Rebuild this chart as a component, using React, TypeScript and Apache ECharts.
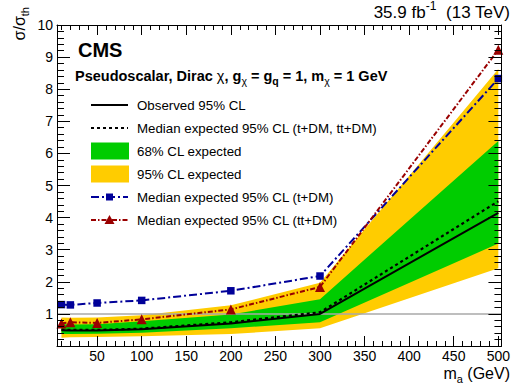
import React, { useEffect, useRef } from "react";
import * as echarts from "echarts";

// ---- data ----
const masses = [10, 20, 50, 100, 200, 300, 500];
const observed = [0.49, 0.48, 0.48, 0.52, 0.70, 1.00, 4.15];
const expected = [0.51, 0.50, 0.50, 0.54, 0.74, 1.05, 4.51];
const exp68Low = [0.37, 0.37, 0.38, 0.41, 0.55, 0.74, 3.19];
const exp68High = [0.68, 0.67, 0.68, 0.77, 0.98, 1.46, 6.39];
const exp95Low = [0.26, 0.27, 0.28, 0.30, 0.37, 0.55, 2.42];
const exp95High = [0.89, 0.88, 0.89, 0.96, 1.27, 1.97, 8.63];
const expTDM = [1.29, 1.28, 1.34, 1.42, 1.72, 2.18, 8.33];
const expTTDM = [0.70, 0.74, 0.72, 0.83, 1.14, 1.84, 9.23];

const xMajorTicks = [50, 100, 150, 200, 250, 300, 350, 400, 450, 500];
const xMinorTicks = Array.from({ length: 50 }, (_, i) => (i + 1) * 10).filter(
  (v) => v % 50 !== 0
);
const legendLabels = [
  "Observed 95% CL",
  "Median expected 95% CL (t+DM, tt+DM)",
  "68% CL expected",
  "95% CL expected",
  "Median expected 95% CL (t+DM)",
  "Median expected 95% CL (tt+DM)",
];

const X_MIN = 5;
const X_MAX = 503.5;
const FONT = '"Liberation Sans", Arial, Helvetica, sans-serif';
const GREEN = "#00CC00";
const YELLOW = "#FFCC00";
const BLUE = "#000099";
const RED = "#990000";
const BLUE_DASH = [8, 3, 2, 3];
const RED_DASH = [5, 2, 1.5, 2];

const pair = (ys: number[]) => masses.map((m, i) => [m, ys[i]]);

function xAxisDef(position: "top" | "bottom", ticks: number[], len: number, labels: boolean, line: boolean) {
  return {
    type: "value",
    position,
    min: X_MIN,
    max: X_MAX,
    z: 10,
    axisLine: { show: line, onZero: false, lineStyle: { color: "#000", width: 1 } },
    axisTick: { show: true, inside: true, length: len, customValues: ticks, lineStyle: { color: "#000", width: 1 } },
    axisLabel: labels
      ? { show: true, customValues: ticks, fontSize: 14, color: "#000", fontFamily: FONT, margin: 3 }
      : { show: false },
    splitLine: { show: false },
  };
}

function yAxisDef(position: "left" | "right", labels: boolean) {
  return {
    type: "value",
    position,
    min: 0,
    max: 10,
    interval: 1,
    z: 10,
    axisLine: { show: true, onZero: false, lineStyle: { color: "#000", width: 1 } },
    axisTick: { show: true, inside: true, length: 13, lineStyle: { color: "#000", width: 1 } },
    minorTick: { show: true, splitNumber: 5, length: 7, lineStyle: { color: "#000", width: 1 } },
    axisLabel: labels
      ? {
          show: true,
          fontSize: 14,
          color: "#000",
          fontFamily: FONT,
          margin: 4,
          formatter: (v: number) => (v === 0 ? "" : String(v)),
        }
      : { show: false },
    splitLine: { show: false },
    minorSplitLine: { show: false },
  };
}

function bandSeries(lo: number[], hi: number[], color: string, z: number, extra: any = {}) {
  return {
    type: "custom",
    silent: true,
    z,
    clip: true,
    data: masses.map((m, i) => [m, lo[i], hi[i]]),
    encode: { x: 0, y: [1, 2] },
    renderItem: (params: any, api: any) => {
      if (params.dataIndex !== 0) return null;
      const upper = masses.map((m, i) => api.coord([m, hi[i]]));
      const lower = masses.map((m, i) => api.coord([m, lo[i]])).reverse();
      return {
        type: "polygon",
        shape: { points: upper.concat(lower) },
        style: { fill: color, stroke: null },
      };
    },
    ...extra,
  };
}

const legendRows = [105, 128, 151, 174, 197, 220];
const LX1 = 91;
const LX2 = 128;
const LTX = 137;

export default function App() {
  const ref = useRef<HTMLDivElement>(null);
  useEffect(() => {
    if (!ref.current) return;
    const chart = echarts.init(ref.current, undefined, { renderer: "svg" });
    const subRich = {
      a: { fontSize: 16, fontFamily: FONT, color: "#000", lineHeight: 22 },
      s: { fontSize: 11, fontFamily: FONT, color: "#000", verticalAlign: "bottom", lineHeight: 14 },
    };
    const graphic: any[] = [
      {
        type: "text",
        x: 510,
        y: 12,
        style: {
          text: "{n|35.9 fb}{sup|-1}{n|  (13 TeV)}",
          align: "right",
          verticalAlign: "middle",
          rich: {
            n: { fontSize: 17, fontFamily: FONT, color: "#000", lineHeight: 24 },
            sup: { fontSize: 12, fontFamily: FONT, color: "#000", verticalAlign: "top", lineHeight: 12 },
          },
        },
      },
      {
        type: "text",
        x: 78,
        y: 50,
        style: {
          text: "CMS",
          fontSize: 20,
          fontWeight: "bold",
          fontFamily: FONT,
          fill: "#000",
          align: "left",
          verticalAlign: "middle",
        },
      },
      {
        type: "text",
        x: 75,
        y: 76,
        style: {
          text:
            "{b|Pseudoscalar, Dirac }{g|χ}{b|, g}{s|χ}{b| = g}{sb|q}{b| = 1, m}{s|χ}{b| = 1 GeV}",
          align: "left",
          verticalAlign: "middle",
          rich: {
            b: { fontSize: 14.5, fontWeight: "bold", fontFamily: FONT, color: "#000", lineHeight: 20 },
            g: { fontSize: 14.5, fontFamily: FONT, color: "#000", lineHeight: 20 },
            s: { fontSize: 10.5, fontFamily: FONT, color: "#000", verticalAlign: "bottom", lineHeight: 12 },
            sb: { fontSize: 10.5, fontWeight: "bold", fontFamily: FONT, color: "#000", verticalAlign: "bottom", lineHeight: 12 },
          },
        },
      },
      {
        type: "text",
        x: 19,
        y: 7,
        rotation: Math.PI / 2,
        style: {
          text: "{a|σ/σ}{s|th}",
          align: "right",
          verticalAlign: "middle",
          rich: subRich,
        },
      },
      {
        type: "text",
        x: 510,
        y: 373,
        style: {
          text: "{a|m}{s|a}{a| (GeV)}",
          align: "right",
          verticalAlign: "middle",
          rich: subRich,
        },
      },
      { type: "line", shape: { x1: LX1, y1: legendRows[0], x2: LX2, y2: legendRows[0] }, style: { stroke: "#000", lineWidth: 2 } },
      { type: "line", shape: { x1: LX1, y1: legendRows[1], x2: LX2, y2: legendRows[1] }, style: { stroke: "#000", lineWidth: 2, lineDash: [3, 3] } },
      { type: "rect", shape: { x: LX1, y: legendRows[2] - 8.5, width: 38, height: 17 }, style: { fill: GREEN } },
      { type: "rect", shape: { x: LX1, y: legendRows[3] - 8.5, width: 38, height: 17 }, style: { fill: YELLOW } },
      { type: "line", shape: { x1: LX1, y1: legendRows[4], x2: LX2, y2: legendRows[4] }, style: { stroke: BLUE, lineWidth: 2, lineDash: BLUE_DASH } },
      { type: "rect", shape: { x: 106, y: legendRows[4] - 3.5, width: 7, height: 7 }, style: { fill: BLUE } },
      { type: "line", shape: { x1: LX1, y1: legendRows[5], x2: LX2, y2: legendRows[5] }, style: { stroke: RED, lineWidth: 2, lineDash: RED_DASH } },
      {
        type: "polygon",
        shape: { points: [[109.5, legendRows[5] - 5], [114.5, legendRows[5] + 4], [104.5, legendRows[5] + 4]] },
        style: { fill: RED },
      },
      ...legendLabels.map((t, i) => ({
        type: "text",
        x: LTX,
        y: legendRows[i],
        style: {
          text: t,
          fontSize: 13.3,
          fontFamily: FONT,
          fill: "#000",
          align: "left",
          verticalAlign: "middle",
        },
      })),
    ].map((g) => ({ ...g, z: 100 }));

    chart.setOption({
      animation: false,
      grid: { left: 57, right: 4, top: 25, bottom: 41, containLabel: false },
      xAxis: [
        xAxisDef("bottom", xMajorTicks, 10, true, true),
        xAxisDef("bottom", xMinorTicks, 5, false, false),
        xAxisDef("top", xMajorTicks, 10, false, true),
        xAxisDef("top", xMinorTicks, 5, false, false),
      ],
      yAxis: [yAxisDef("left", true), yAxisDef("right", false)],
      series: [
        bandSeries(exp95Low, exp95High, YELLOW, 1),
        bandSeries(exp68Low, exp68High, GREEN, 2, {
          markLine: {
            silent: true,
            symbol: "none",
            z: 3,
            label: { show: false },
            lineStyle: { color: "#a8a8a8", width: 1.5, type: "solid" },
            data: [{ yAxis: 1 }],
          },
        }),
        {
          type: "line",
          data: pair(expected),
          symbol: "none",
          lineStyle: { color: "#000", width: 2.2, type: [3, 3] },
          z: 4,
        },
        {
          type: "line",
          data: pair(observed),
          symbol: "none",
          lineStyle: { color: "#000", width: 2 },
          z: 5,
        },
        {
          type: "line",
          data: pair(expTDM),
          symbol: "rect",
          symbolSize: 7.5,
          itemStyle: { color: BLUE },
          lineStyle: { color: BLUE, width: 2, type: BLUE_DASH },
          z: 6,
        },
        {
          type: "line",
          data: pair(expTTDM),
          symbol: "triangle",
          symbolSize: 10,
          itemStyle: { color: RED },
          lineStyle: { color: RED, width: 2, type: RED_DASH },
          z: 7,
        },
      ],
      graphic,
    });
    return () => chart.dispose();
  }, []);
  return (
    <div
      ref={ref}
      style={{ position: "fixed", left: 0, top: 0, width: 513, height: 387, background: "#fff" }}
    />
  );
}
